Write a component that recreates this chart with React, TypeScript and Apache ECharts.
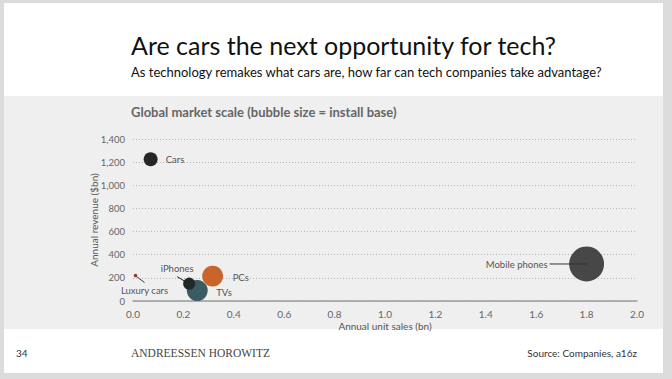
import React, { useEffect, useRef } from "react";
import * as echarts from "echarts";

// ---- data ----
const names = ["Cars", "Luxury cars", "TVs", "iPhones", "PCs", "Mobile phones"];
const unitSales = [0.07, 0.01, 0.255, 0.223, 0.316, 1.8]; // bn units / year
const revenue = [1225, 220, 90, 150, 215, 320]; // $bn / year
const installBase = [0.8, 0.05, 1.8, 0.6, 1.8, 5.0]; // bn units (bubble size)

const xMin = 0;
const xMax = 2.0;
const xStep = 0.2;
const yMin = 0;
const yMax = 1400;
const yStep = 200;

const mainTitle = "Are cars the next opportunity for tech?";
const subTitle = "As technology remakes what cars are, how far can tech companies take advantage?";
const chartTitle = "Global market scale (bubble size = install base)";
const xName = "Annual unit sales (bn)";
const yName = "Annual revenue ($bn)";
const pageNumber = "34";
const firmName = "ANDREESSEN HOROWITZ";
const sourceText = "Source: Companies, a16z";

// ---- styles (not data) ----
const colors: Record<string, string> = {
  Cars: "#262626",
  "Luxury cars": "#8a3b1c",
  TVs: "#3c5a61",
  iPhones: "#1f2b2b",
  PCs: "#c9652b",
  "Mobile phones": "#474747",
};
const labelPlacement: Record<string, { align: string; offset: [number, number] }> = {
  Cars: { align: "left", offset: [15, 0] },
  "Luxury cars": { align: "center", offset: [9, 15] },
  TVs: { align: "left", offset: [19, 1.5] },
  iPhones: { align: "center", offset: [-12, -15] },
  PCs: { align: "left", offset: [20, 1] },
  "Mobile phones": { align: "right", offset: [-39, 1] },
};
const leaderLines: Record<string, [number, number, number, number, string]> = {
  "Luxury cars": [1, 1, 9, 7, "#4a3328"],
  iPhones: [-12, -7, -2, -1, "#222"],
  "Mobile phones": [-37, 0, 0, 0, "#333"],
};

const FONT = "Lato, 'Open Sans', sans-serif";

export default function App() {
  const ref = useRef<HTMLDivElement>(null);
  useEffect(() => {
    document.body.style.margin = "0";
    if (!ref.current) return;
    const chart = echarts.init(ref.current, undefined, { renderer: "svg" });

    const scatterData = names.map((n, i) => ({
      name: n,
      value: [unitSales[i], revenue[i], installBase[i]],
      itemStyle: { color: colors[n] },
      label: {
        show: true,
        position: "inside",
        formatter: n,
        align: labelPlacement[n].align,
        verticalAlign: "middle",
        offset: labelPlacement[n].offset,
        color: "#555",
        fontSize: 9.5,
        fontFamily: FONT,
      },
    }));

    const lineData = names
      .map((n, i) => ({ n, i }))
      .filter((d) => leaderLines[d.n])
      .map((d) => ({ name: d.n, value: [unitSales[d.i], revenue[d.i]] }));

    chart.setOption({
      animation: false,
      textStyle: { fontFamily: FONT },
      graphic: [
        { type: "rect", silent: true, z: -10, shape: { x: 0, y: 0, width: 672, height: 379 }, style: { fill: "#dcdcdc" } },
        { type: "rect", silent: true, z: -9, shape: { x: 4, y: 3, width: 659, height: 370 }, style: { fill: "#ffffff" } },
        { type: "rect", silent: true, z: -8, shape: { x: 4, y: 96, width: 659, height: 233 }, style: { fill: "#efefef" } },
        {
          type: "text", x: 131, y: 45, silent: true,
          style: { text: mainTitle, fontSize: 25, fontFamily: FONT, fill: "#111", verticalAlign: "middle" },
        },
        {
          type: "text", x: 131, y: 72, silent: true,
          style: { text: subTitle, fontSize: 13, fontFamily: FONT, fill: "#111", verticalAlign: "middle" },
        },
        {
          type: "text", x: 131, y: 112, silent: true,
          style: { text: chartTitle, fontSize: 13, fontWeight: "bold", fontFamily: FONT, fill: "#666", verticalAlign: "middle" },
        },
        {
          type: "text", x: 16, y: 353, silent: true,
          style: { text: pageNumber, fontSize: 10, fontFamily: FONT, fill: "#333", verticalAlign: "middle" },
        },
        {
          type: "text", x: 131, y: 353, silent: true,
          style: { text: firmName, fontSize: 11.5, fontFamily: "'Liberation Serif', 'DejaVu Serif', serif", fill: "#444", verticalAlign: "middle" },
        },
        {
          type: "text", x: 637, y: 353, silent: true,
          style: { text: sourceText, fontSize: 10, fontFamily: FONT, fill: "#333", align: "right", verticalAlign: "middle" },
        },
      ],
      grid: { left: 133, right: 35, top: 139, bottom: 78 },
      xAxis: {
        type: "value",
        min: xMin,
        max: xMax,
        interval: xStep,
        name: xName,
        nameLocation: "middle",
        nameGap: 20,
        nameMoveOverlap: false,
        nameTextStyle: { color: "#555", fontSize: 10, fontFamily: FONT },
        axisLine: { show: true, lineStyle: { color: "#9a9a9a", width: 1.5 } },
        axisTick: { show: false },
        splitLine: { show: false },
        axisLabel: { color: "#666", fontSize: 10, margin: 8, fontFamily: FONT, formatter: (v: number) => v.toFixed(1) },
      },
      yAxis: {
        type: "value",
        min: yMin,
        max: yMax,
        interval: yStep,
        name: yName,
        nameLocation: "middle",
        nameGap: 34,
        nameMoveOverlap: false,
        nameRotate: 90,
        nameTextStyle: { color: "#555", fontSize: 10, fontFamily: FONT },
        axisLine: { show: false },
        axisTick: { show: false },
        splitLine: { show: true, lineStyle: { color: "#b5b5b5", type: [1, 2], width: 1 } },
        axisLabel: {
          color: "#666",
          fontSize: 9.5,
          margin: 8,
          fontFamily: FONT,
          formatter: (v: number) => v.toLocaleString("en-US"),
        },
      },
      series: [
        {
          type: "scatter",
          data: scatterData,
          symbolSize: (val: number[]) => 15.6 * Math.sqrt(val[2]),
          itemStyle: { opacity: 1 },
          z: 3,
        },
        {
          type: "custom",
          data: lineData,
          z: 4,
          silent: true,
          renderItem: (params: any, api: any) => {
            const p = api.coord([api.value(0), api.value(1)]);
            const n = lineData[params.dataIndex].name;
            const l = leaderLines[n];
            return {
              type: "line",
              shape: { x1: p[0] + l[0], y1: p[1] + l[1], x2: p[0] + l[2], y2: p[1] + l[3] },
              style: { stroke: l[4], lineWidth: 1 },
            };
          },
        },
      ],
    });
    return () => chart.dispose();
  }, []);
  return <div ref={ref} style={{ width: 672, height: 379 }} />;
}
